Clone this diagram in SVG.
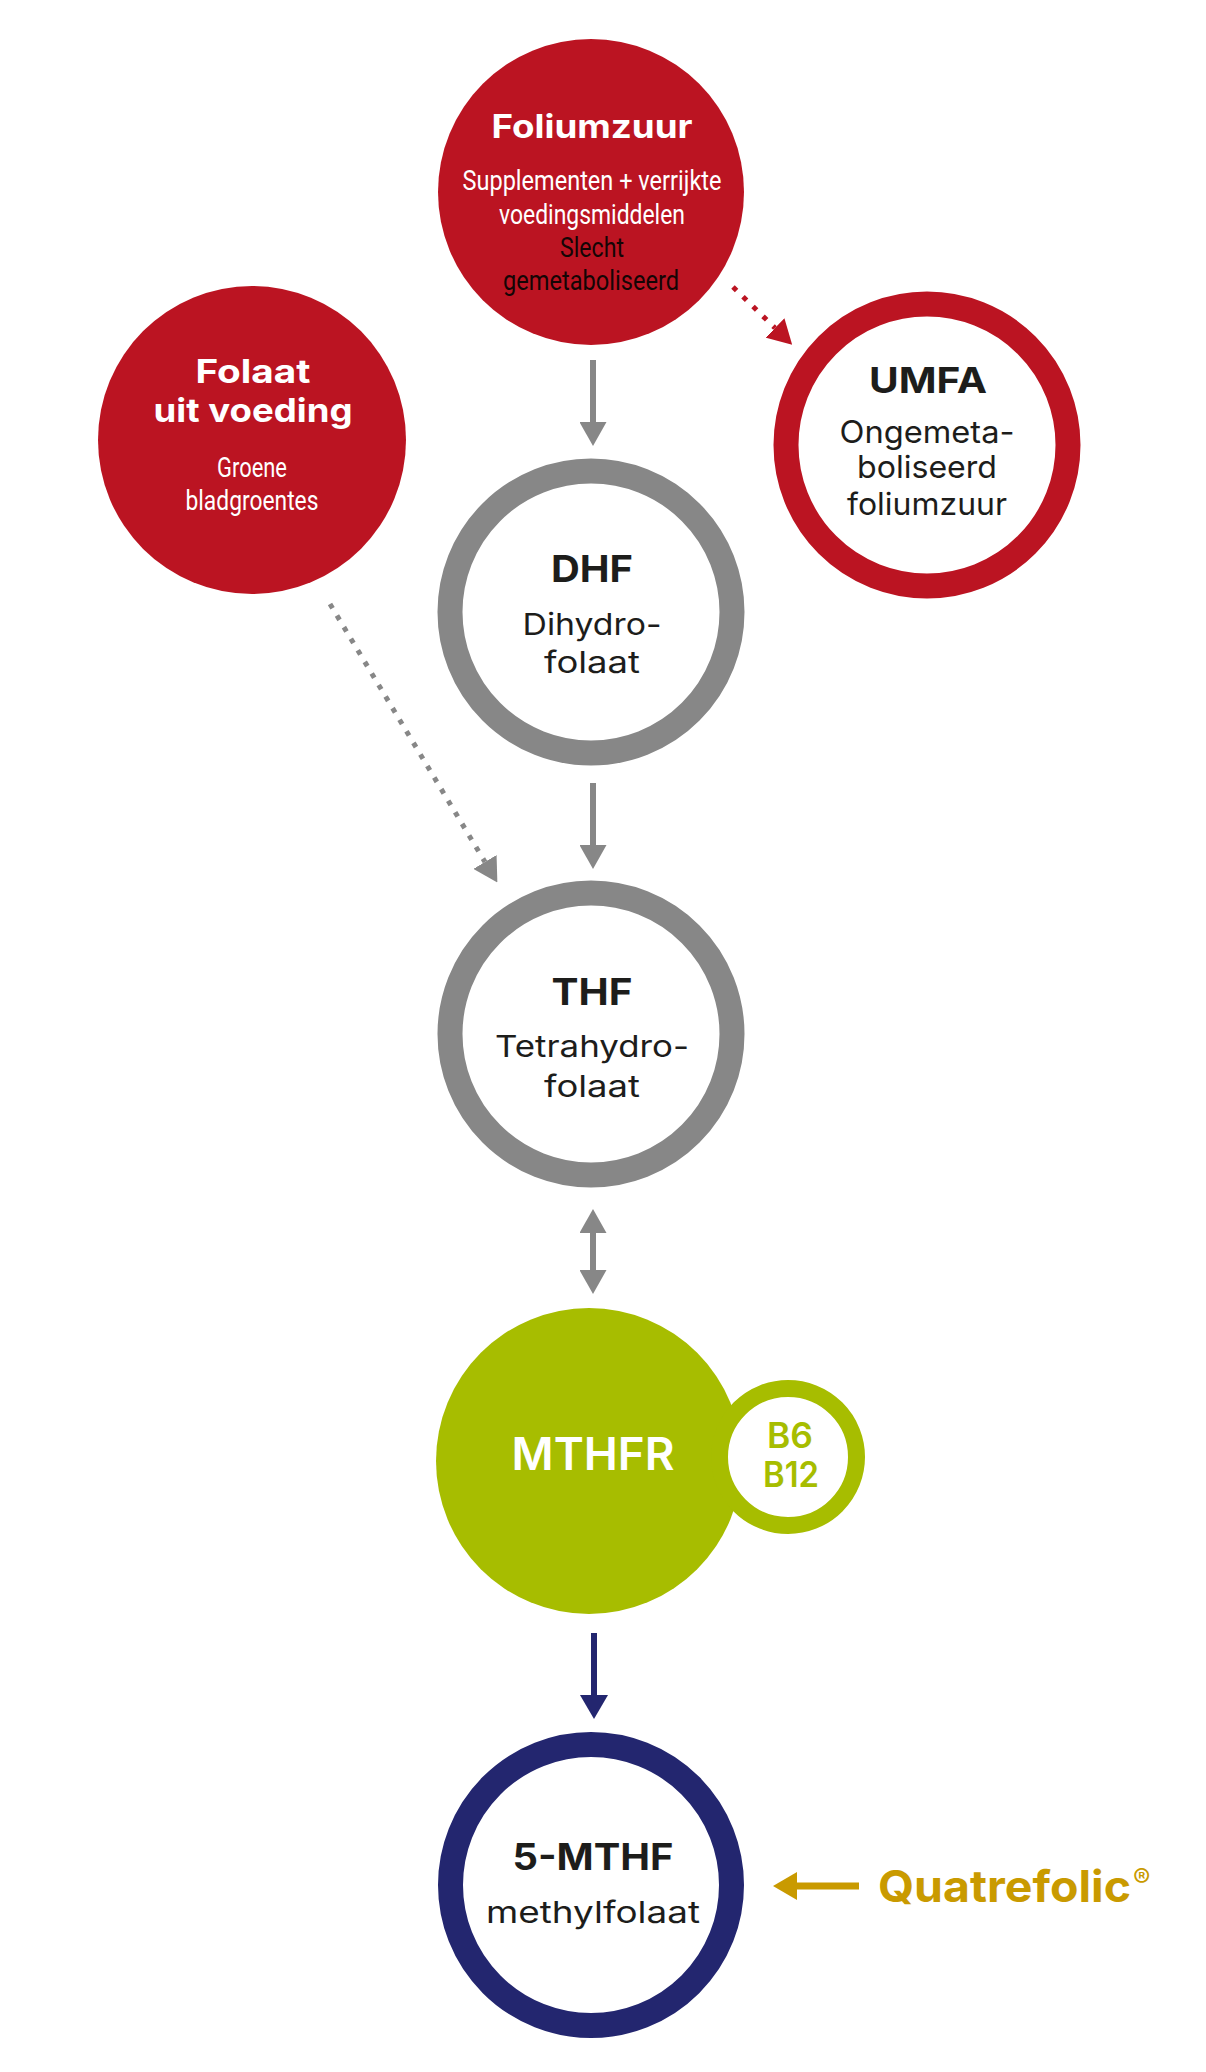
<svg xmlns="http://www.w3.org/2000/svg" width="1206" height="2072" viewBox="0 0 1206 2072">
<style>
.t{font-family:Inter,"Open Sans","Liberation Sans",sans-serif;text-anchor:middle}
.c{font-family:"Roboto","Liberation Sans",sans-serif;text-anchor:middle;font-size:27px;font-weight:400}
.w{fill:#ffffff}
.k{fill:#1d1d1b}
.b{font-weight:700}
.r{font-weight:400}
.ring{fill:#ffffff;stroke-width:25}
</style>
<defs>
<marker id="ag" viewBox="0 0 24 27" refX="0" refY="13.5" markerWidth="24" markerHeight="27" markerUnits="userSpaceOnUse" orient="auto-start-reverse"><path d="M0,0 L24,13.5 L0,27 Z" fill="#878787"/></marker>
<marker id="ar" viewBox="0 0 24 27" refX="0" refY="13.5" markerWidth="24" markerHeight="27" markerUnits="userSpaceOnUse" orient="auto"><path d="M0,0 L24,13.5 L0,27 Z" fill="#bb1422"/></marker>
<marker id="an" viewBox="0 0 24 28" refX="0" refY="14" markerWidth="24" markerHeight="28" markerUnits="userSpaceOnUse" orient="auto"><path d="M0,0 L24,14 L0,28 Z" fill="#23266f"/></marker>
<marker id="ay" viewBox="0 0 24 28" refX="0" refY="14" markerWidth="24" markerHeight="28" markerUnits="userSpaceOnUse" orient="auto"><path d="M0,0 L24,14 L0,28 Z" fill="#c99a00"/></marker>
</defs>
<rect width="1206" height="2072" fill="#ffffff"/>
<g id="connectors" fill="none">
<line x1="593" y1="360" x2="593" y2="422" stroke="#878787" stroke-width="6" marker-end="url(#ag)"/>
<line x1="593" y1="783" x2="593" y2="845" stroke="#878787" stroke-width="6" marker-end="url(#ag)"/>
<line x1="593" y1="1233" x2="593" y2="1270" stroke="#878787" stroke-width="6" marker-start="url(#ag)" marker-end="url(#ag)"/>
<line x1="594" y1="1633" x2="594" y2="1695" stroke="#23266f" stroke-width="6" marker-end="url(#an)"/>
<line x1="859" y1="1886" x2="797" y2="1886" stroke="#c99a00" stroke-width="7" marker-end="url(#ay)"/>
<line x1="330" y1="604" x2="485" y2="862" stroke="#878787" stroke-width="5" stroke-dasharray="5 8.5" marker-end="url(#ag)"/>
<line x1="733" y1="287" x2="775" y2="328" stroke="#bb1422" stroke-width="5" stroke-dasharray="5 9" marker-end="url(#ar)"/>
</g>
<g id="foliumzuur">
<circle cx="591" cy="192" r="153" fill="#bb1422"/>
<text class="t b w" x="592" y="138" font-size="32" textLength="201" lengthAdjust="spacingAndGlyphs">Foliumzuur</text>
<text class="c w" x="592" y="190" textLength="259" lengthAdjust="spacingAndGlyphs">Supplementen + verrijkte</text>
<text class="c w" x="592" y="224" textLength="186" lengthAdjust="spacingAndGlyphs">voedingsmiddelen</text>
<text class="c" x="592" y="257" fill="#140505" font-weight="500" textLength="64" lengthAdjust="spacingAndGlyphs">Slecht</text>
<text class="c" x="591" y="290" fill="#140505" font-weight="500" textLength="176" lengthAdjust="spacingAndGlyphs">gemetaboliseerd</text>
</g>
<g id="folaat">
<circle cx="252" cy="440" r="154" fill="#bb1422"/>
<text class="t b w" x="253" y="383" font-size="33" textLength="115" lengthAdjust="spacingAndGlyphs">Folaat</text>
<text class="t b w" x="253" y="422" font-size="33" textLength="199" lengthAdjust="spacingAndGlyphs">uit voeding</text>
<text class="c w" x="252" y="477" textLength="70" lengthAdjust="spacingAndGlyphs">Groene</text>
<text class="c w" x="252" y="510" textLength="133" lengthAdjust="spacingAndGlyphs">bladgroentes</text>
</g>
<g id="umfa">
<circle cx="927" cy="445" r="141" class="ring" stroke="#bb1422"/>
<text class="t b k" x="928" y="393" font-size="36" textLength="118" lengthAdjust="spacingAndGlyphs">UMFA</text>
<text class="t r k" x="927" y="443" font-size="31" textLength="175" lengthAdjust="spacingAndGlyphs">Ongemeta-</text>
<text class="t r k" x="927" y="478" font-size="31" textLength="140" lengthAdjust="spacingAndGlyphs">boliseerd</text>
<text class="t r k" x="927" y="515" font-size="31" textLength="160" lengthAdjust="spacingAndGlyphs">foliumzuur</text>
</g>
<g id="dhf">
<circle cx="591" cy="612" r="141" class="ring" stroke="#878787"/>
<text class="t b k" x="592" y="582" font-size="37" textLength="82" lengthAdjust="spacingAndGlyphs">DHF</text>
<text class="t r k" x="592" y="635" font-size="30" textLength="139" lengthAdjust="spacingAndGlyphs">Dihydro-</text>
<text class="t r k" x="592" y="673" font-size="30" textLength="96" lengthAdjust="spacingAndGlyphs">folaat</text>
</g>
<g id="thf">
<circle cx="591" cy="1034" r="141" class="ring" stroke="#878787"/>
<text class="t b k" x="592" y="1005" font-size="37" textLength="81" lengthAdjust="spacingAndGlyphs">THF</text>
<text class="t r k" x="592" y="1057" font-size="30" textLength="194" lengthAdjust="spacingAndGlyphs">Tetrahydro-</text>
<text class="t r k" x="592" y="1097" font-size="30" textLength="96" lengthAdjust="spacingAndGlyphs">folaat</text>
</g>
<g id="mthfr">
<circle cx="589" cy="1461" r="153" fill="#a7bd00"/>
<text class="t w" x="593" y="1470" font-size="45" font-weight="600" textLength="163" lengthAdjust="spacingAndGlyphs">MTHFR</text>
</g>
<g id="b6b12">
<circle cx="788" cy="1457" r="68.5" fill="#ffffff" stroke="#a7bd00" stroke-width="17"/>
<text class="t" x="790" y="1448" font-size="35" font-weight="600" fill="#a7bd00" textLength="46" lengthAdjust="spacingAndGlyphs">B6</text>
<text class="t" x="791" y="1487" font-size="35" font-weight="600" fill="#a7bd00" textLength="56" lengthAdjust="spacingAndGlyphs">B12</text>
</g>
<g id="mthf5">
<circle cx="591" cy="1885" r="140.5" class="ring" stroke="#23266f"/>
<text class="t b k" x="593" y="1870" font-size="37" textLength="161" lengthAdjust="spacingAndGlyphs">5-MTHF</text>
<text class="t r k" x="593" y="1923" font-size="30" textLength="214" lengthAdjust="spacingAndGlyphs">methylfolaat</text>
</g>
<g id="quatrefolic">
<text x="878" y="1902" font-family="Inter,'Open Sans','Liberation Sans',sans-serif" font-size="44" font-weight="700" fill="#c99a00" textLength="253" lengthAdjust="spacingAndGlyphs">Quatrefolic</text>
<text x="1133" y="1887" font-family="Inter,'Open Sans','Liberation Sans',sans-serif" font-size="26" font-weight="400" fill="#c99a00">®</text>
</g>
</svg>
